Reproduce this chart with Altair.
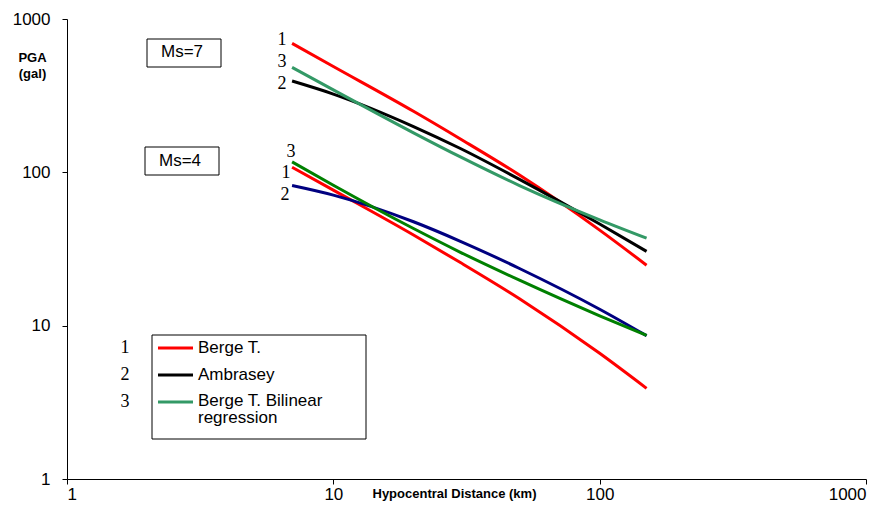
import altair as alt
import pandas as pd

# ---- data ----
distance = [7, 10, 20, 30, 50, 100, 150]

berge_ms7 = [693, 490, 250, 165, 96, 42, 24.8]
ambrasey_ms7 = [394, 324, 199, 143, 90, 46, 30.5]
bilinear_ms7 = [484, 345, 181, 126, 82, 49, 37.2]

berge_ms4 = [108, 76.5, 39, 25.8, 15, 6.6, 3.9]
ambrasey_ms4 = [82, 71, 47.6, 35.5, 23.6, 12.8, 8.6]
bilinear_ms4 = [117, 82.4, 43, 30.1, 19.8, 11.6, 8.65]

series_names = ["Berge T. Ms7", "Ambrasey Ms7", "Bilinear Ms7",
                "Berge T. Ms4", "Ambrasey Ms4", "Bilinear Ms4"]
series_values = [berge_ms7, ambrasey_ms7, bilinear_ms7,
                 berge_ms4, ambrasey_ms4, bilinear_ms4]
series_colors = ["#FF0000", "#000000", "#339966",
                 "#FF0000", "#000080", "#008000"]

axis_ticks = [1, 10, 100, 1000]
legend_labels = ["Berge T.", "Ambrasey", "Berge T. Bilinear\nregression"]
legend_colors = ["#FF0000", "#000000", "#339966"]

rows = []
for name, vals in zip(series_names, series_values):
    for d, v in zip(distance, vals):
        rows.append({"series": name, "distance": d, "pga": v})
df = pd.DataFrame(rows)

FONT = "Liberation Sans"
SERIF = "Liberation Serif"
one = pd.DataFrame({"k": [0]})

lines = alt.Chart(df).mark_line(strokeWidth=3, interpolate="monotone").encode(
    x=alt.X("distance:Q",
            scale=alt.Scale(type="log", domain=[1, 1000], nice=False),
            axis=alt.Axis(values=axis_ticks, format="d",
                          title="Hypocentral Distance (km)",
                          titleFont=FONT, titleFontSize=13, titleFontWeight="bold",
                          titleX=387, titleY=14, titleBaseline="middle",
                          labelPadding=2)),
    y=alt.Y("pga:Q",
            scale=alt.Scale(type="log", domain=[1, 1000], nice=False),
            axis=alt.Axis(values=axis_ticks, format="d",
                          title=["PGA", "(gal)"],
                          titleFont=FONT, titleFontSize=13, titleFontWeight="bold",
                          titleAngle=0, titleX=-35, titleY=38,
                          titleAlign="center", titleBaseline="middle",
                          titleLineHeight=16,
                          labelPadding=12)),
    color=alt.Color("series:N",
                    scale=alt.Scale(domain=series_names, range=series_colors),
                    legend=None),
    detail="series:N",
)


def box(x1, x2, y1, y2):
    return alt.Chart(one).mark_rect(fill="white", stroke="black", strokeWidth=1).encode(
        x=alt.value(x1), x2=alt.value(x2), y=alt.value(y1), y2=alt.value(y2))


def txt(s, x, y, size=17, font=FONT, align="center", baseline="middle"):
    return alt.Chart(one).mark_text(text=s, fontSize=size, font=font, align=align,
                                    baseline=baseline, color="black",
                                    lineBreak="\n", lineHeight=17).encode(
        x=alt.value(x), y=alt.value(y))


def seg(x1, x2, y, color):
    return alt.Chart(one).mark_rule(strokeWidth=3, color=color).encode(
        x=alt.value(x1), x2=alt.value(x2), y=alt.value(y))


layers = [lines,
          box(80, 154, 20, 48), txt("Ms=7", 115, 33),
          box(78, 152, 128, 156), txt("Ms=4", 113, 142),
          box(85, 299, 316, 420)]

# legend entries
leg_y = [329, 356, 383]
for c, yy in zip(legend_colors, leg_y):
    layers.append(seg(91, 126, yy, c))
layers.append(txt(legend_labels[0], 131, 329, align="left"))
layers.append(txt(legend_labels[1], 131, 356, align="left"))
layers.append(txt(legend_labels[2], 131, 374, align="left", baseline="top"))
for n, yy in zip(["1", "2", "3"], leg_y):
    layers.append(txt(n, 58, yy, size=18, font=SERIF))

# curve number labels
for n, xx, yy in [("1", 215, 21), ("3", 215, 43), ("2", 215, 65),
                  ("3", 224, 133), ("1", 219, 154), ("2", 218, 176)]:
    layers.append(txt(n, xx, yy, size=18, font=SERIF))

chart = alt.layer(*layers).properties(
    width=799, height=460,
    autosize=alt.AutoSizeParams(type="none"),
    padding={"left": 59, "top": 11, "right": 11, "bottom": 25},
).configure_view(stroke=None).configure_axis(
    grid=False, domainColor="black", tickColor="black", tickSize=5,
    labelFont=FONT, labelFontSize=17, labelColor="black", titleColor="black",
)

chart.save("out.html", embed_options={"renderer": "svg", "actions": False})
